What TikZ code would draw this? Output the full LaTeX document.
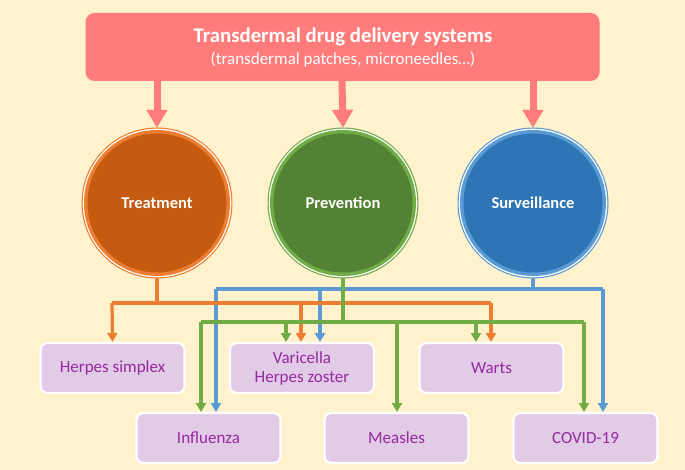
\documentclass[tikz,border=0pt]{standalone}
\usepackage{fontspec}
\setmainfont{Carlito}
\usetikzlibrary{arrows.meta}
\definecolor{bg}{RGB}{255,242,204}
\definecolor{salmon}{RGB}{255,124,122}
\definecolor{trDark}{RGB}{197,90,17}
\definecolor{trLight}{RGB}{237,125,49}
\definecolor{prDark}{RGB}{84,130,53}
\definecolor{prLight}{RGB}{112,173,71}
\definecolor{suDark}{RGB}{46,117,182}
\definecolor{suLight}{RGB}{91,155,213}
\definecolor{boxfill}{RGB}{225,203,230}
\definecolor{boxtext}{RGB}{150,40,160}
\tikzset{
  topbox/.style={fill=salmon, rounded corners=9pt, minimum width=514pt, minimum height=68pt, inner sep=0pt, align=center, text=white},
  bigarrow/.style={salmon, line width=7pt, -{Triangle[width=20pt,length=18pt]}},
  circ/.style={circle, minimum size=150pt, inner sep=0pt},
  disease/.style={fill=boxfill, draw=white, line width=2.2pt, rounded corners=7pt, minimum width=144pt, minimum height=50pt, inner sep=0pt, align=center, text=boxtext, font=\fontsize{17}{19}\selectfont},
  conn/.style={line width=3.2pt, -{Triangle[width=10pt,length=9pt]}},
  seg/.style={line width=3.2pt},
  circlabel/.style={text=white, font=\fontsize{16.5}{19}\selectfont\bfseries}
}
\newcommand{\ringcircle}[4]{%
  \fill[#3] (#1) circle (75.5pt);
  \fill[white] (#1) circle (74.3pt);
  \fill[#3] (#1) circle (73pt);
  \fill[#2] (#1) circle (69.5pt);
  \node[circlabel] at (#1) {#4};
}
\begin{document}
\begin{tikzpicture}[x=1pt,y=-1pt]
\fill[bg] (0,0) rectangle (685,470);
\useasboundingbox (0,0) rectangle (685,470);

\node[topbox] (top) at (342.5,47) {};
\node[text=white, font=\fontsize{20.8}{23}\selectfont\bfseries] (title) at (343,37) {Transdermal drug delivery systems};
\node[text=white, font=\fontsize{17}{19}\selectfont] (sub) at (343,60) {(transdermal patches, microneedles…)};

\node[circ] (tr) at (157,203) {};
\node[circ] (pr) at (343,203) {};
\node[circ] (su) at (533,203) {};
\ringcircle{tr}{trDark}{trLight}{Treatment}
\ringcircle{pr}{prDark}{prLight}{Prevention}
\ringcircle{su}{suDark}{suLight}{Surveillance}

\coordinate (a1) at (157,81);
\coordinate (a2) at (342,81);
\coordinate (a3) at (533,81);
\draw[bigarrow] (a1) -- (tr.north);
\draw[bigarrow] (a2) -- (pr.north);
\draw[bigarrow] (a3) -- (su.north);

\node[disease] (hs) at (112.5,368) {Herpes simplex};
\node[disease] (vz) at (302,368) {Varicella\\Herpes zoster};
\node[disease] (wa) at (491.5,368) {Warts};
\node[disease] (in) at (208.5,438) {Influenza};
\node[disease] (me) at (396.5,438) {Measles};
\node[disease] (co) at (585.5,438) {COVID-19};

% blue (surveillance)
\coordinate (bj) at (533,289);
\draw[seg, suLight] (su.south) -- (bj);
\draw[seg, suLight] (216,289) -- (603,289);
\draw[conn, suLight] (216,289) -- (216,412);
\draw[conn, suLight] (320,289) -- (320,342);
\draw[conn, suLight] (603,289) -- (603,412);

% orange (treatment)
\draw[seg, trLight] (tr.south) -- (157,303);
\draw[seg, trLight] (112,303) -- (491,303);
\draw[conn, trLight] (112,303) -- (hs.north);
\draw[conn, trLight] (301,303) -- (301,342);
\draw[conn, trLight] (491,303) -- (491,342);

% green (prevention)
\draw[seg, prLight] (pr.south) -- (343,322);
\draw[seg, prLight] (201,322) -- (584,322);
\draw[conn, prLight] (201,322) -- (201,412);
\draw[conn, prLight] (286,322) -- (286,342);
\draw[conn, prLight] (397,322) -- (397,412);
\draw[conn, prLight] (476,322) -- (476,342);
\draw[conn, prLight] (584,322) -- (584,412);
\end{tikzpicture}
\end{document}
